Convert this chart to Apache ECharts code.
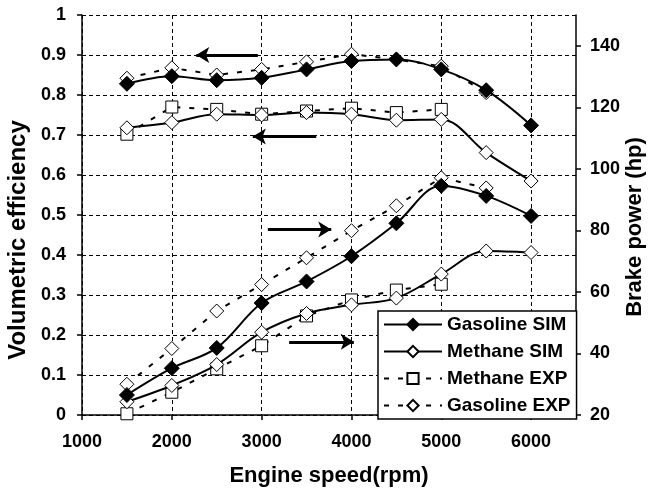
<!DOCTYPE html>
<html><head><meta charset="utf-8">
<script src="https://cdn.jsdelivr.net/npm/echarts@6/dist/echarts.min.js"></script>
<style>html,body{margin:0;padding:0;background:#fff}#c{width:649px;height:492px}</style>
</head><body><div id="c"></div>
<script>
// Engine speed (rpm)
const rpm = [1500, 2000, 2500, 3000, 3500, 4000, 4500, 5000, 5500, 6000];
// Volumetric efficiency (left axis)
const veGasSim = [0.828, 0.847, 0.837, 0.843, 0.864, 0.885, 0.889, 0.864, 0.812, 0.724];
const veMetSim = [0.718, 0.731, 0.752, 0.750, 0.756, 0.752, 0.737, 0.739, 0.656, 0.585];
const veMetExp = [0.702, 0.770, 0.764, 0.752, 0.760, 0.767, 0.756, 0.764];
const veGasExp = [0.842, 0.868, 0.850, 0.864, 0.883, 0.902, 0.889, 0.872, 0.806];
// Brake power (hp, right axis)
const hpGasSim = [26.5, 35.2, 41.8, 56.4, 63.4, 71.6, 82.3, 94.5, 91.2, 84.7];
const hpMetSim = [24.3, 29.6, 36.4, 46.9, 53.0, 55.8, 58.0, 65.8, 73.3, 72.8];
const hpMetExp = [20.4, 27.4, 35.0, 42.5, 52.2, 57.4, 60.6, 62.5];
const hpGasExp = [30.0, 41.6, 53.8, 62.4, 71.1, 79.9, 88.0, 97.1, 93.8];
// Tick labels
const xTicks = [1000, 2000, 3000, 4000, 5000, 6000];
const hpTicks = [20, 40, 60, 80, 100, 120, 140];
// Arrows [fromRpm, fromVE, toRpm, toVE] (arrowhead at "to")
const arrows = [
  [2958, 0.900, 2272, 0.900],
  [3608, 0.696, 2902, 0.696],
  [3069, 0.464, 3775, 0.464],
  [3306, 0.183, 4026, 0.183]
];
const legendNames = ['Gasoline SIM', 'Methane SIM', 'Methane EXP', 'Gasoline EXP'];

const FONT = "'Liberation Sans', Arial, sans-serif";
const pairs = (vals) => vals.map((v, i) => [rpm[i], v]);

const styles = {
  'Gasoline SIM': {symbol: 'diamond', symbolSize: 15, itemStyle: {color: '#000', borderColor: '#000', borderWidth: 1}, lineStyle: {color: '#000', width: 2, type: 'solid'}, smooth: 0.35},
  'Methane SIM': {symbol: 'diamond', symbolSize: 14, itemStyle: {color: '#fff', borderColor: '#000', borderWidth: 1}, lineStyle: {color: '#000', width: 2, type: 'solid'}, smooth: 0.35},
  'Methane EXP': {symbol: 'rect', symbolSize: 12, itemStyle: {color: '#fff', borderColor: '#000', borderWidth: 1}, lineStyle: {color: '#000', width: 2, type: [5, 9]}, smooth: false},
  'Gasoline EXP': {symbol: 'diamond', symbolSize: 14, itemStyle: {color: '#fff', borderColor: '#000', borderWidth: 1}, lineStyle: {color: '#000', width: 2, type: [5, 9]}, smooth: false}
};

function mk(name, yIdx, vals, z) {
  const s = styles[name];
  return Object.assign({
    type: 'line', name: name, yAxisIndex: yIdx, data: pairs(vals), z: z,
    showAllSymbol: true, animation: false
  }, JSON.parse(JSON.stringify(s)));
}

const series = [
  mk('Methane EXP', 0, veMetExp, 2),
  mk('Methane SIM', 0, veMetSim, 3),
  mk('Gasoline EXP', 0, veGasExp, 4),
  mk('Gasoline SIM', 0, veGasSim, 5),
  mk('Methane EXP', 1, hpMetExp, 2),
  mk('Methane SIM', 1, hpMetSim, 3),
  mk('Gasoline EXP', 1, hpGasExp, 4),
  mk('Gasoline SIM', 1, hpGasSim, 5)
];
series[3].markLine = {
  silent: true, animation: false, symbol: ['none', 'arrow'], symbolSize: [12, 13],
  label: {show: false},
  lineStyle: {color: '#000', width: 3, type: 'solid'},
  data: arrows.map(a => [{coord: [a[0], a[1]]}, {coord: [a[2], a[3]]}])
};

const axisCommon = {
  axisLine: {show: true, lineStyle: {color: '#000', width: 1.5}},
  axisTick: {show: true, length: 5, lineStyle: {color: '#000', width: 1.5}},
  axisLabel: {color: '#000', fontFamily: FONT, fontWeight: 'bold', fontSize: 18},
  nameTextStyle: {color: '#000', fontFamily: FONT, fontWeight: 'bold', fontSize: 22}
};
const dashed = {show: true, lineStyle: {color: '#000', width: 1, type: [4, 3]}};

const chart = echarts.init(document.getElementById('c'), null, {renderer: 'canvas'});
chart.setOption({
  animation: false,
  backgroundColor: '#fff',
  grid: {left: 82, right: 73, top: 15, bottom: 77, containLabel: false, outerBoundsMode: 'none'},
  legend: {
    data: legendNames, orient: 'vertical', left: 378, top: 311, width: 198,
    backgroundColor: '#fff', borderColor: '#000', borderWidth: 1.5,
    padding: [4, 6, 4, 5], itemGap: 8, itemWidth: 58, itemHeight: 14, itemTextGap: 6,
    textStyle: {color: '#000', fontFamily: FONT, fontWeight: 'bold', fontSize: 19},
    selectedMode: false, z: 20
  },
  xAxis: Object.assign({}, axisCommon, {
    type: 'value', min: 1000, max: 6500, interval: 1000,
    name: 'Engine speed(rpm)', nameLocation: 'middle', nameGap: 50, nameMoveOverlap: false,
    nameTextStyle: Object.assign({}, axisCommon.nameTextStyle, {fontSize: 22}),
    axisLabel: Object.assign({}, axisCommon.axisLabel, {margin: 18, customValues: xTicks, formatter: v => String(v)}),
    axisTick: Object.assign({}, axisCommon.axisTick, {customValues: xTicks}),
    splitLine: dashed
  }),
  yAxis: [
    Object.assign({}, axisCommon, {
      type: 'value', min: 0, max: 1, interval: 0.1, position: 'left',
      name: 'Volumetric efficiency', nameLocation: 'middle', nameGap: 52, nameRotate: 90, nameMoveOverlap: false,
      nameTextStyle: Object.assign({}, axisCommon.nameTextStyle, {fontSize: 24, padding: [0, 50, 0, 0]}),
      axisLabel: Object.assign({}, axisCommon.axisLabel, {margin: 16}),
      splitLine: dashed
    }),
    Object.assign({}, axisCommon, {
      type: 'value', min: 20, max: 150, interval: 20, position: 'right',
      name: 'Brake power (hp)', nameLocation: 'middle', nameGap: 48, nameRotate: 90, nameMoveOverlap: false,
      nameTextStyle: Object.assign({}, axisCommon.nameTextStyle, {fontSize: 22, padding: [0, 24, 0, 0]}),
      axisLabel: Object.assign({}, axisCommon.axisLabel, {margin: 14, customValues: hpTicks}),
      axisTick: Object.assign({}, axisCommon.axisTick, {customValues: hpTicks}),
      splitLine: {show: false}
    })
  ],
  series: series
});
</script></body></html>
